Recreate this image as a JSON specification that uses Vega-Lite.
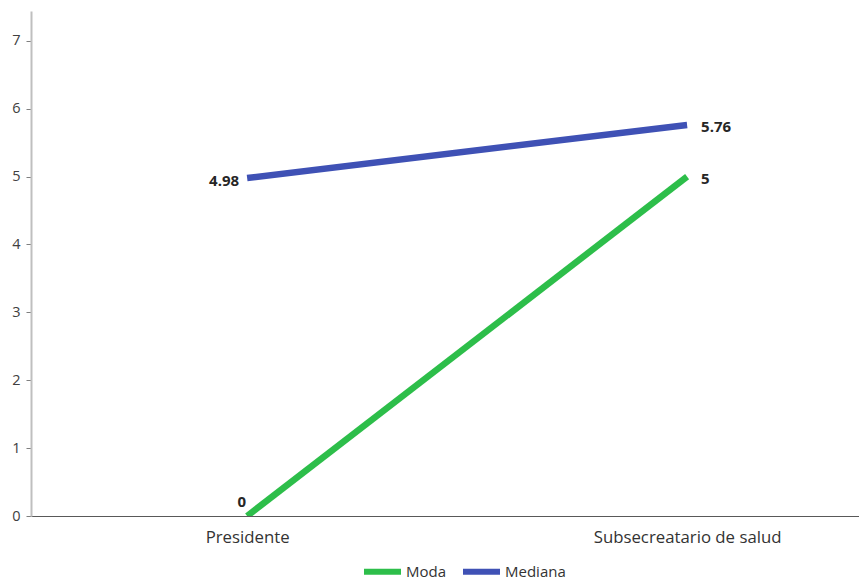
{
  "$schema": "https://vega.github.io/schema/vega-lite/v6.json",
  "width": 828,
  "height": 505,
  "autosize": "none",
  "padding": {"left": 31, "top": 11, "right": 0, "bottom": 64},
  "background": "white",
  "config": {
    "view": {"stroke": null},
    "font": "Open Sans"
  },
  "data": {
    "values": [
      {"cargo": "Presidente", "serie": "Moda", "valor": 0},
      {"cargo": "Subsecreatario de salud", "serie": "Moda", "valor": 5},
      {"cargo": "Presidente", "serie": "Mediana", "valor": 4.98},
      {"cargo": "Subsecreatario de salud", "serie": "Mediana", "valor": 5.76}
    ]
  },
  "encoding": {
    "x": {
      "field": "cargo",
      "type": "nominal",
      "sort": ["Presidente", "Subsecreatario de salud"],
      "scale": {"type": "point", "padding": 0.441, "align": 0.557},
      "axis": {
        "title": null,
        "labelAngle": 0,
        "ticks": false,
        "domainColor": "#595959",
        "domainWidth": 1,
        "labelFont": "Open Sans",
        "labelFontSize": 16.8,
        "labelColor": "#333333",
        "labelPadding": 13,
        "labelLimit": 400
      }
    },
    "y": {
      "field": "valor",
      "type": "quantitative",
      "scale": {"domain": [0, 7.44], "nice": false, "zero": true},
      "axis": {
        "title": null,
        "values": [0, 1, 2, 3, 4, 5, 6, 7],
        "grid": false,
        "domainColor": "#bfbfbf",
        "domainWidth": 2,
        "tickColor": "#7f7f7f",
        "tickSize": 5,
        "labelFont": "Open Sans",
        "labelFontSize": 14.5,
        "labelColor": "#404040",
        "labelPadding": 6
      }
    }
  },
  "layer": [
    {
      "mark": {"type": "line", "strokeWidth": 6.5, "strokeCap": "butt", "clip": true},
      "encoding": {
        "color": {
          "field": "serie",
          "type": "nominal",
          "scale": {"domain": ["Moda", "Mediana"], "range": ["#2dbe4a", "#3f51b5"]},
          "legend": {
            "title": null,
            "orient": "none",
            "direction": "horizontal",
            "legendX": 330,
            "legendY": 539,
            "symbolType": "stroke",
            "symbolSize": 1369,
            "symbolStrokeWidth": 6,
            "labelFont": "Open Sans",
            "labelFontSize": 15,
            "labelColor": "#333333",
            "columnPadding": 4,
            "labelOffset": 2
          }
        }
      }
    },
    {
      "transform": [{"filter": "datum.cargo == 'Presidente' && datum.valor > 0"}],
      "mark": {"type": "text", "align": "right", "baseline": "middle", "dx": -8, "dy": 3, "fontWeight": "bold", "fontSize": 15, "font": "Open Sans", "color": "#262626"},
      "encoding": {"text": {"field": "valor", "type": "quantitative"}}
    },
    {
      "transform": [{"filter": "datum.cargo == 'Presidente' && datum.valor == 0"}],
      "mark": {"type": "text", "align": "right", "baseline": "middle", "dx": -1, "dy": -14, "fontWeight": "bold", "fontSize": 15, "font": "Open Sans", "color": "#262626"},
      "encoding": {"text": {"field": "valor", "type": "quantitative"}}
    },
    {
      "transform": [{"filter": "datum.cargo != 'Presidente'"}],
      "mark": {"type": "text", "align": "left", "baseline": "middle", "dx": 14, "dy": 2, "fontWeight": "bold", "fontSize": 15, "font": "Open Sans", "color": "#262626"},
      "encoding": {"text": {"field": "valor", "type": "quantitative"}}
    }
  ]
}
